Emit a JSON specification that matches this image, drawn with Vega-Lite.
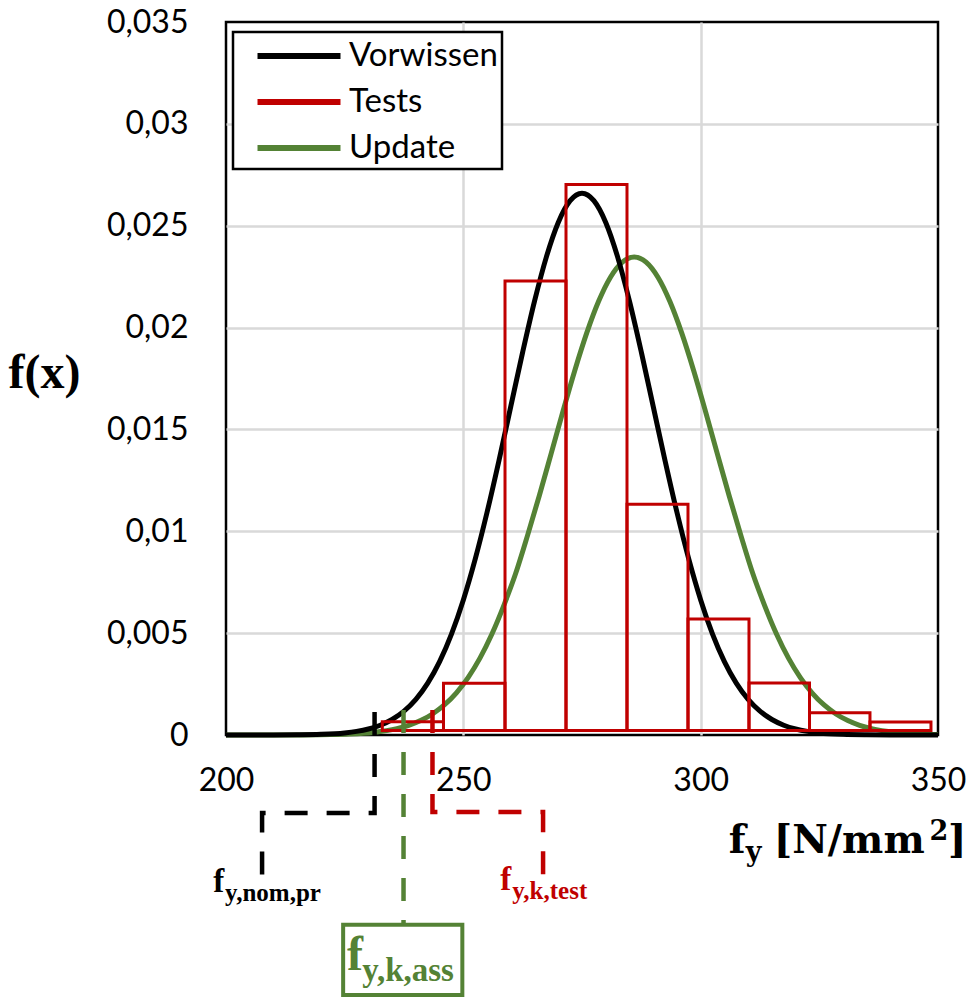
{
  "$schema": "https://vega.github.io/schema/vega-lite/v6.json",
  "width": 712,
  "height": 713,
  "autosize": {"type": "none"},
  "padding": {"left": 226, "top": 22, "right": 37, "bottom": 266},
  "background": "white",
  "config": {
    "font": "Lato",
    "view": {"stroke": "black", "strokeWidth": 2.5},
    "axis": {"domain": false, "ticks": false, "gridColor": "#d9d9d9", "gridWidth": 2.5, "labelFont": "Lato", "labelFontSize": 32, "labelColor": "black", "labelFlush": false},
    "legend": {"strokeWidth": 2.5}
  },
  "datasets": {
    "bins": [
      {"lo": 232.93, "hi": 245.82, "d": 0.00065},
      {"lo": 245.82, "hi": 258.78, "d": 0.00254},
      {"lo": 258.78, "hi": 271.63, "d": 0.02228},
      {"lo": 271.63, "hi": 284.48, "d": 0.02702},
      {"lo": 284.48, "hi": 297.33, "d": 0.01133},
      {"lo": 297.33, "hi": 310.18, "d": 0.00569},
      {"lo": 310.18, "hi": 322.93, "d": 0.00255},
      {"lo": 322.93, "hi": 335.67, "d": 0.00109},
      {"lo": 335.67, "hi": 348.52, "d": 0.00064}
    ],
    "curves": [
      {"s": "Vorwissen", "x": 200, "y": 0},
      {"s": "Vorwissen", "x": 205, "y": 0.0000005},
      {"s": "Vorwissen", "x": 210, "y": 0.0000022},
      {"s": "Vorwissen", "x": 215, "y": 0.0000089},
      {"s": "Vorwissen", "x": 220, "y": 0.000032},
      {"s": "Vorwissen", "x": 225, "y": 0.000103},
      {"s": "Vorwissen", "x": 227.5, "y": 0.000177},
      {"s": "Vorwissen", "x": 230, "y": 0.000295},
      {"s": "Vorwissen", "x": 232.5, "y": 0.000481},
      {"s": "Vorwissen", "x": 235, "y": 0.00076},
      {"s": "Vorwissen", "x": 237.5, "y": 0.001169},
      {"s": "Vorwissen", "x": 240, "y": 0.001748},
      {"s": "Vorwissen", "x": 242.5, "y": 0.002543},
      {"s": "Vorwissen", "x": 245, "y": 0.003599},
      {"s": "Vorwissen", "x": 247.5, "y": 0.004954},
      {"s": "Vorwissen", "x": 250, "y": 0.006632},
      {"s": "Vorwissen", "x": 252.5, "y": 0.008634},
      {"s": "Vorwissen", "x": 255, "y": 0.010934},
      {"s": "Vorwissen", "x": 257.5, "y": 0.013466},
      {"s": "Vorwissen", "x": 260, "y": 0.016131},
      {"s": "Vorwissen", "x": 262.5, "y": 0.018794},
      {"s": "Vorwissen", "x": 265, "y": 0.021297},
      {"s": "Vorwissen", "x": 267.5, "y": 0.023471},
      {"s": "Vorwissen", "x": 270, "y": 0.025159},
      {"s": "Vorwissen", "x": 272.5, "y": 0.026229},
      {"s": "Vorwissen", "x": 275, "y": 0.026596},
      {"s": "Vorwissen", "x": 277.5, "y": 0.026229},
      {"s": "Vorwissen", "x": 280, "y": 0.025159},
      {"s": "Vorwissen", "x": 282.5, "y": 0.023471},
      {"s": "Vorwissen", "x": 285, "y": 0.021297},
      {"s": "Vorwissen", "x": 287.5, "y": 0.018794},
      {"s": "Vorwissen", "x": 290, "y": 0.016131},
      {"s": "Vorwissen", "x": 292.5, "y": 0.013466},
      {"s": "Vorwissen", "x": 295, "y": 0.010934},
      {"s": "Vorwissen", "x": 297.5, "y": 0.008634},
      {"s": "Vorwissen", "x": 300, "y": 0.006632},
      {"s": "Vorwissen", "x": 302.5, "y": 0.004954},
      {"s": "Vorwissen", "x": 305, "y": 0.003599},
      {"s": "Vorwissen", "x": 307.5, "y": 0.002543},
      {"s": "Vorwissen", "x": 310, "y": 0.001748},
      {"s": "Vorwissen", "x": 312.5, "y": 0.001169},
      {"s": "Vorwissen", "x": 315, "y": 0.00076},
      {"s": "Vorwissen", "x": 317.5, "y": 0.000481},
      {"s": "Vorwissen", "x": 320, "y": 0.000295},
      {"s": "Vorwissen", "x": 322.5, "y": 0.000177},
      {"s": "Vorwissen", "x": 325, "y": 0.000103},
      {"s": "Vorwissen", "x": 330, "y": 0.000032},
      {"s": "Vorwissen", "x": 335, "y": 0.0000089},
      {"s": "Vorwissen", "x": 340, "y": 0.0000022},
      {"s": "Vorwissen", "x": 345, "y": 0.0000005},
      {"s": "Vorwissen", "x": 350, "y": 0},
      {"s": "Update", "x": 200, "y": 0},
      {"s": "Update", "x": 206, "y": 0.0000004},
      {"s": "Update", "x": 211, "y": 0.0000014},
      {"s": "Update", "x": 216, "y": 0.0000049},
      {"s": "Update", "x": 222, "y": 0.0000196},
      {"s": "Update", "x": 226, "y": 0.0000463},
      {"s": "Update", "x": 231, "y": 0.000125},
      {"s": "Update", "x": 236, "y": 0.00031},
      {"s": "Update", "x": 238.5, "y": 0.000473},
      {"s": "Update", "x": 241, "y": 0.000706},
      {"s": "Update", "x": 243.5, "y": 0.001031},
      {"s": "Update", "x": 246, "y": 0.001473},
      {"s": "Update", "x": 248.5, "y": 0.00206},
      {"s": "Update", "x": 251, "y": 0.002819},
      {"s": "Update", "x": 253.5, "y": 0.003774},
      {"s": "Update", "x": 256, "y": 0.004946},
      {"s": "Update", "x": 258.5, "y": 0.006342},
      {"s": "Update", "x": 261, "y": 0.007912},
      {"s": "Update", "x": 263.5, "y": 0.009774},
      {"s": "Update", "x": 266, "y": 0.011746},
      {"s": "Update", "x": 268.5, "y": 0.013815},
      {"s": "Update", "x": 271, "y": 0.015901},
      {"s": "Update", "x": 273.5, "y": 0.017909},
      {"s": "Update", "x": 276, "y": 0.019739},
      {"s": "Update", "x": 278.5, "y": 0.021291},
      {"s": "Update", "x": 281, "y": 0.022474},
      {"s": "Update", "x": 283.5, "y": 0.023215},
      {"s": "Update", "x": 286, "y": 0.023467},
      {"s": "Update", "x": 288.5, "y": 0.023215},
      {"s": "Update", "x": 291, "y": 0.022474},
      {"s": "Update", "x": 293.5, "y": 0.021291},
      {"s": "Update", "x": 296, "y": 0.019739},
      {"s": "Update", "x": 298.5, "y": 0.017909},
      {"s": "Update", "x": 301, "y": 0.015901},
      {"s": "Update", "x": 303.5, "y": 0.013815},
      {"s": "Update", "x": 306, "y": 0.011746},
      {"s": "Update", "x": 308.5, "y": 0.009774},
      {"s": "Update", "x": 311, "y": 0.007912},
      {"s": "Update", "x": 313.5, "y": 0.006342},
      {"s": "Update", "x": 316, "y": 0.004946},
      {"s": "Update", "x": 318.5, "y": 0.003774},
      {"s": "Update", "x": 321, "y": 0.002819},
      {"s": "Update", "x": 323.5, "y": 0.00206},
      {"s": "Update", "x": 326, "y": 0.001473},
      {"s": "Update", "x": 328.5, "y": 0.001031},
      {"s": "Update", "x": 331, "y": 0.000706},
      {"s": "Update", "x": 333.5, "y": 0.000473},
      {"s": "Update", "x": 336, "y": 0.00031},
      {"s": "Update", "x": 341, "y": 0.000125},
      {"s": "Update", "x": 346, "y": 0.0000463},
      {"s": "Update", "x": 350, "y": 0.0000196}
    ],
    "guides": [
      {"ref": "nom", "seq": 1, "x": 231.3, "y": 0.00113},
      {"ref": "nom", "seq": 2, "x": 231.3, "y": -0.00383},
      {"ref": "nom", "seq": 3, "x": 207.6, "y": -0.00383},
      {"ref": "nom", "seq": 4, "x": 207.6, "y": -0.00702},
      {"ref": "ass", "seq": 1, "x": 237.4, "y": 0.00123},
      {"ref": "ass", "seq": 2, "x": 237.4, "y": -0.00932},
      {"ref": "test", "seq": 1, "x": 243.5, "y": 0.00123},
      {"ref": "test", "seq": 2, "x": 243.5, "y": -0.00378},
      {"ref": "test", "seq": 3, "x": 266.8, "y": -0.00378},
      {"ref": "test", "seq": 4, "x": 266.8, "y": -0.00697}
    ],
    "box": [
      {"ref": "ass", "x1": 224.68, "x2": 249.79, "y1": -0.00932, "y2": -0.01276}
    ],
    "labels": [
      {"ref": "axis", "part": "main", "text": "f", "x": 305.9, "y": -0.00579},
      {"ref": "axis", "part": "sub", "text": "y", "x": 309.5, "y": -0.00618},
      {"ref": "axis", "part": "main", "text": "[N/mm", "x": 315.4, "y": -0.00579},
      {"ref": "axis", "part": "sup", "text": "2", "x": 348.2, "y": -0.00515},
      {"ref": "axis", "part": "close", "text": "]", "x": 356.0, "y": -0.00579},
      {"ref": "nom", "part": "main", "text": "f", "x": 197.3, "y": -0.0077},
      {"ref": "nom", "part": "sub", "text": "y,nom,pr", "x": 199.8, "y": -0.00815},
      {"ref": "test", "part": "main", "text": "f", "x": 257.8, "y": -0.0076},
      {"ref": "test", "part": "sub", "text": "y,k,test", "x": 260.3, "y": -0.00805},
      {"ref": "ass", "part": "main", "text": "f", "x": 225.5, "y": -0.01153},
      {"ref": "ass", "part": "sub", "text": "y,k,ass", "x": 228.7, "y": -0.01207}
    ]
  },
  "layer": [
    {
      "data": {"name": "curves"},
      "transform": [{"filter": "datum.s === 'Update'"}],
      "mark": {"type": "line", "strokeWidth": 5, "interpolate": "monotone"},
      "encoding": {
        "x": {"field": "x", "type": "quantitative", "scale": {"domain": [200, 350], "nice": false, "zero": false},
          "axis": {"values": [200, 250, 300, 350], "labelPadding": 30, "title": null,
            "gridOpacity": {"condition": {"test": "datum.value === 200 || datum.value === 350", "value": 0}, "value": 1}}},
        "y": {"field": "y", "type": "quantitative", "scale": {"domain": [0, 0.035], "nice": false, "zero": false},
          "axis": {"values": [0, 0.005, 0.01, 0.015, 0.02, 0.025, 0.03, 0.035],
            "labelExpr": "replace(format(datum.value, '.3~f'), '.', ',')",
            "labelPadding": 38,
            "title": "f(x)", "titleFont": "Liberation Serif", "titleFontWeight": "bold", "titleFontSize": 48, "titleColor": "black",
            "titleAngle": 0, "titleAlign": "center", "titleBaseline": "alphabetic", "titleX": -182, "titleY": 365,
            "gridOpacity": {"condition": {"test": "datum.value === 0 || datum.value === 0.035", "value": 0}, "value": 1}}},
        "color": {"field": "s", "type": "nominal",
          "scale": {"domain": ["Vorwissen", "Tests", "Update"], "range": ["#000000", "#C00000", "#548235"]},
          "legend": {"orient": "none", "legendX": 7, "legendY": 10, "title": null,
            "symbolType": "M-2.5,0H2.5", "symbolSize": 1102, "symbolStrokeWidth": 6,
            "symbolOffset": 42,
            "labelFont": "Lato", "labelFontSize": 33, "labelColor": "black", "labelOffset": 30,
            "labelLimit": 400,
            "labelExpr": "datum.label + '\u00a0\u00a0\u00a0\u00a0'",
            "strokeColor": "black", "fillColor": "white", "padding": 4, "rowPadding": 9}}
      }
    },
    {
      "data": {"name": "curves"},
      "transform": [{"filter": "datum.s === 'Vorwissen'"}],
      "mark": {"type": "line", "strokeWidth": 5, "interpolate": "monotone"},
      "encoding": {
        "x": {"field": "x", "type": "quantitative"},
        "y": {"field": "y", "type": "quantitative"},
        "color": {"field": "s", "type": "nominal"}
      }
    },
    {
      "data": {"name": "bins"},
      "mark": {"type": "rect", "fill": "transparent", "stroke": "#C00000", "strokeWidth": 3},
      "encoding": {
        "x": {"field": "lo", "type": "quantitative"},
        "x2": {"field": "hi"},
        "y": {"field": "d", "type": "quantitative"},
        "y2": {"datum": 0.00022}
      }
    },
    {
      "data": {"name": "guides"},
      "transform": [{"filter": "datum.ref === 'nom'"}],
      "mark": {"type": "line", "stroke": "black", "strokeWidth": 4.5, "strokeDash": [23, 19], "strokeCap": "butt"},
      "encoding": {
        "x": {"field": "x", "type": "quantitative"},
        "y": {"field": "y", "type": "quantitative"},
        "order": {"field": "seq"}
      }
    },
    {
      "data": {"name": "guides"},
      "transform": [{"filter": "datum.ref === 'ass'"}],
      "mark": {"type": "line", "stroke": "#548235", "strokeWidth": 4.5, "strokeDash": [23, 19], "strokeCap": "butt"},
      "encoding": {
        "x": {"field": "x", "type": "quantitative"},
        "y": {"field": "y", "type": "quantitative"},
        "order": {"field": "seq"}
      }
    },
    {
      "data": {"name": "guides"},
      "transform": [{"filter": "datum.ref === 'test'"}],
      "mark": {"type": "line", "stroke": "#C00000", "strokeWidth": 4.5, "strokeDash": [23, 19], "strokeCap": "butt"},
      "encoding": {
        "x": {"field": "x", "type": "quantitative"},
        "y": {"field": "y", "type": "quantitative"},
        "order": {"field": "seq"}
      }
    },
    {
      "data": {"name": "box"},
      "mark": {"type": "rect", "fill": "transparent", "stroke": "#548235", "strokeWidth": 4},
      "encoding": {
        "x": {"field": "x1", "type": "quantitative"},
        "x2": {"field": "x2"},
        "y": {"field": "y1", "type": "quantitative"},
        "y2": {"field": "y2"}
      }
    },
    {
      "data": {"name": "labels"},
      "transform": [{"filter": "datum.ref === 'axis' && datum.part === 'main'"}],
      "mark": {"type": "text", "font": "DejaVu Serif", "fontWeight": "bold", "fontSize": 39, "color": "black", "align": "left", "baseline": "alphabetic"},
      "encoding": {"x": {"field": "x", "type": "quantitative"}, "y": {"field": "y", "type": "quantitative"}, "text": {"field": "text"}}
    },
    {
      "data": {"name": "labels"},
      "transform": [{"filter": "datum.ref === 'axis' && datum.part === 'close'"}],
      "mark": {"type": "text", "font": "DejaVu Serif", "fontWeight": "bold", "fontSize": 39, "color": "black", "align": "right", "baseline": "alphabetic"},
      "encoding": {"x": {"field": "x", "type": "quantitative"}, "y": {"field": "y", "type": "quantitative"}, "text": {"field": "text"}}
    },
    {
      "data": {"name": "labels"},
      "transform": [{"filter": "datum.ref === 'axis' && (datum.part === 'sub' || datum.part === 'sup')"}],
      "mark": {"type": "text", "font": "DejaVu Serif", "fontWeight": "bold", "fontSize": 27, "color": "black", "align": "left", "baseline": "alphabetic"},
      "encoding": {"x": {"field": "x", "type": "quantitative"}, "y": {"field": "y", "type": "quantitative"}, "text": {"field": "text"}}
    },
    {
      "data": {"name": "labels"},
      "transform": [{"filter": "datum.ref === 'nom' && datum.part === 'main'"}],
      "mark": {"type": "text", "font": "Liberation Serif", "fontWeight": "bold", "fontSize": 33, "color": "black", "align": "left", "baseline": "alphabetic"},
      "encoding": {"x": {"field": "x", "type": "quantitative"}, "y": {"field": "y", "type": "quantitative"}, "text": {"field": "text"}}
    },
    {
      "data": {"name": "labels"},
      "transform": [{"filter": "datum.ref === 'nom' && datum.part === 'sub'"}],
      "mark": {"type": "text", "font": "Liberation Serif", "fontWeight": "bold", "fontSize": 25, "color": "black", "align": "left", "baseline": "alphabetic"},
      "encoding": {"x": {"field": "x", "type": "quantitative"}, "y": {"field": "y", "type": "quantitative"}, "text": {"field": "text"}}
    },
    {
      "data": {"name": "labels"},
      "transform": [{"filter": "datum.ref === 'test' && datum.part === 'main'"}],
      "mark": {"type": "text", "font": "Liberation Serif", "fontWeight": "bold", "fontSize": 33, "color": "#C00000", "align": "left", "baseline": "alphabetic"},
      "encoding": {"x": {"field": "x", "type": "quantitative"}, "y": {"field": "y", "type": "quantitative"}, "text": {"field": "text"}}
    },
    {
      "data": {"name": "labels"},
      "transform": [{"filter": "datum.ref === 'test' && datum.part === 'sub'"}],
      "mark": {"type": "text", "font": "Liberation Serif", "fontWeight": "bold", "fontSize": 25, "color": "#C00000", "align": "left", "baseline": "alphabetic"},
      "encoding": {"x": {"field": "x", "type": "quantitative"}, "y": {"field": "y", "type": "quantitative"}, "text": {"field": "text"}}
    },
    {
      "data": {"name": "labels"},
      "transform": [{"filter": "datum.ref === 'ass' && datum.part === 'main'"}],
      "mark": {"type": "text", "font": "Liberation Serif", "fontWeight": "bold", "fontSize": 48, "color": "#548235", "align": "left", "baseline": "alphabetic"},
      "encoding": {"x": {"field": "x", "type": "quantitative"}, "y": {"field": "y", "type": "quantitative"}, "text": {"field": "text"}}
    },
    {
      "data": {"name": "labels"},
      "transform": [{"filter": "datum.ref === 'ass' && datum.part === 'sub'"}],
      "mark": {"type": "text", "font": "Liberation Serif", "fontWeight": "bold", "fontSize": 33, "color": "#548235", "align": "left", "baseline": "alphabetic"},
      "encoding": {"x": {"field": "x", "type": "quantitative"}, "y": {"field": "y", "type": "quantitative"}, "text": {"field": "text"}}
    }
  ]
}
